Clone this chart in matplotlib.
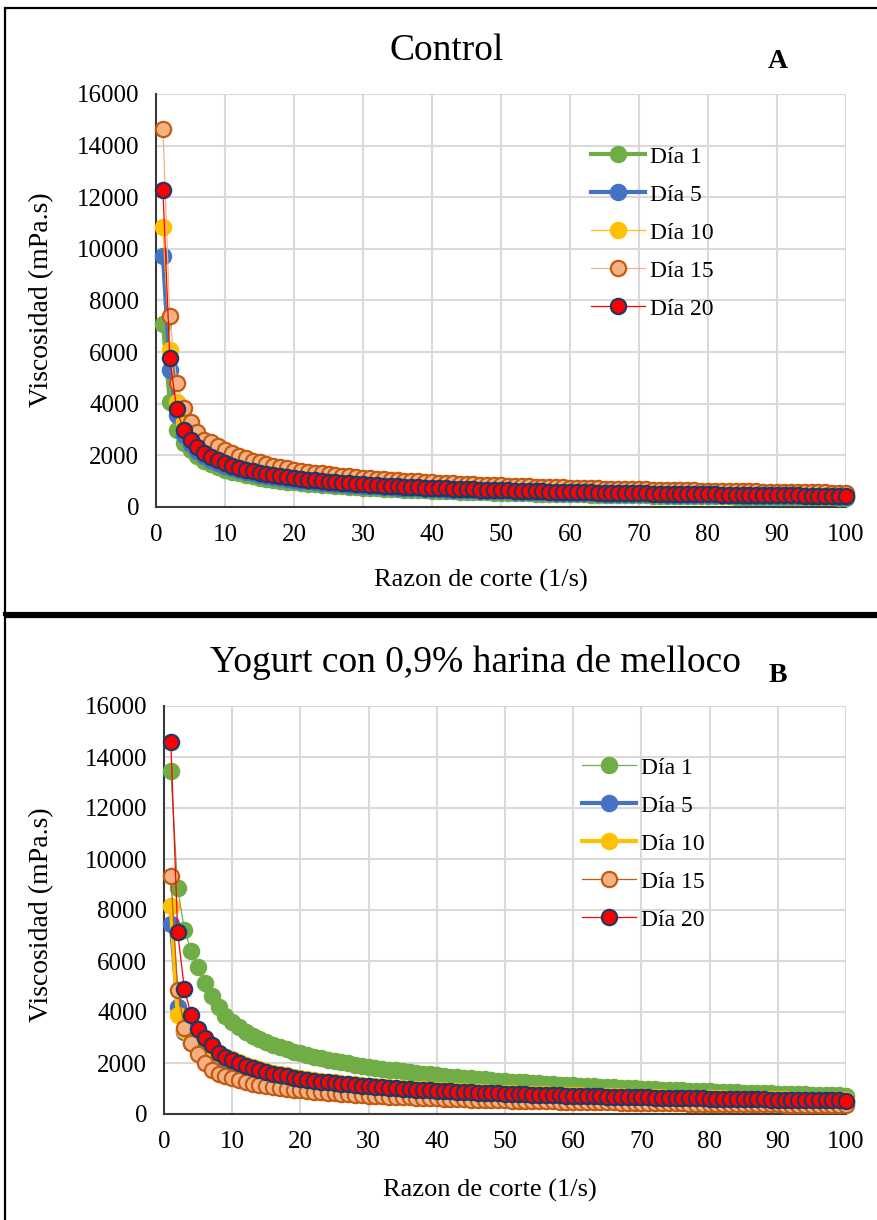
import matplotlib
matplotlib.use("Agg")
import matplotlib.pyplot as plt
from matplotlib.patches import Rectangle
from matplotlib.lines import Line2D

plt.rcParams['font.family'] = ['Liberation Serif', 'DejaVu Serif']

# shear rate (1/s), same for every series
shear_rate = list(range(1, 101))

labels = ['Día 1', 'Día 5', 'Día 10', 'Día 15', 'Día 20']

# ---- Panel A: Control (viscosity, mPa.s) ----
control_d1 = [7100, 4050, 2980, 2480, 2198, 1970, 1796, 1658, 1545, 1450,
              1369, 1300, 1239, 1185, 1137, 1094, 1055, 1019, 987, 957,
              929, 903, 880, 858, 837, 817, 799, 782, 765, 750,
              735, 722, 708, 696, 684, 672, 661, 651, 641, 631,
              622, 613, 604, 596, 588, 580, 573, 566, 559, 552,
              545, 539, 533, 527, 521, 516, 510, 505, 500, 495,
              490, 485, 481, 476, 472, 467, 463, 459, 455, 451,
              447, 444, 440, 436, 433, 429, 426, 423, 419, 416,
              413, 410, 407, 404, 402, 399, 396, 393, 391, 388,
              385, 383, 380, 378, 376, 373, 371, 369, 366, 364]
control_d5 = [9740, 5310, 3550, 2800, 2425, 2174, 1982, 1829, 1704, 1600,
              1511, 1434, 1367, 1308, 1255, 1207, 1164, 1124, 1089, 1056,
              1025, 997, 971, 946, 923, 902, 882, 863, 845, 828,
              812, 796, 782, 768, 755, 742, 730, 718, 707, 696,
              686, 676, 667, 658, 649, 640, 632, 624, 617, 609,
              602, 595, 588, 582, 575, 569, 563, 557, 552, 546,
              541, 535, 530, 525, 520, 516, 511, 507, 502, 498,
              494, 489, 485, 481, 478, 474, 470, 467, 463, 460,
              456, 453, 449, 446, 443, 440, 437, 434, 431, 428,
              425, 423, 420, 417, 415, 412, 409, 407, 404, 402]
control_d10 = [10830, 6100, 4080, 3310, 2728, 2446, 2229, 2058, 1918, 1800,
               1700, 1614, 1538, 1471, 1411, 1358, 1309, 1265, 1225, 1188,
               1153, 1122, 1092, 1065, 1039, 1015, 992, 970, 950, 931,
               913, 896, 879, 864, 849, 835, 821, 808, 795, 784,
               772, 761, 750, 740, 730, 721, 711, 702, 694, 685,
               677, 669, 662, 654, 647, 640, 634, 627, 620, 614,
               608, 602, 597, 591, 586, 580, 575, 570, 565, 560,
               555, 551, 546, 542, 537, 533, 529, 525, 521, 517,
               513, 509, 506, 502, 498, 495, 492, 488, 485, 482,
               478, 475, 472, 469, 466, 463, 460, 458, 455, 452]
control_d15 = [14640, 7400, 4820, 3840, 3310, 2920, 2600, 2515, 2344, 2200,
               2078, 1972, 1879, 1798, 1725, 1659, 1600, 1546, 1497, 1452,
               1410, 1371, 1335, 1301, 1270, 1240, 1212, 1186, 1161, 1138,
               1116, 1095, 1075, 1056, 1038, 1020, 1003, 988, 972, 958,
               944, 930, 917, 904, 892, 881, 869, 858, 848, 838,
               828, 818, 809, 800, 791, 783, 774, 766, 758, 751,
               743, 736, 729, 722, 716, 709, 703, 697, 690, 684,
               679, 673, 667, 662, 657, 651, 646, 642, 636, 632,
               627, 623, 618, 614, 609, 605, 601, 597, 593, 589,
               585, 581, 577, 574, 570, 566, 563, 559, 556, 553]
control_d20 = [12300, 5760, 3790, 2980, 2577, 2310, 2106, 1944, 1811, 1700,
               1605, 1524, 1452, 1389, 1333, 1282, 1236, 1195, 1157, 1122,
               1089, 1059, 1031, 1005, 981, 958, 937, 916, 897, 879,
               862, 846, 830, 816, 802, 788, 775, 763, 751, 740,
               729, 719, 709, 699, 690, 681, 672, 663, 655, 647,
               640, 632, 625, 618, 611, 605, 598, 592, 586, 580,
               574, 569, 563, 558, 553, 548, 543, 538, 533, 529,
               524, 520, 516, 512, 507, 503, 499, 496, 492, 488,
               485, 481, 478, 474, 471, 468, 464, 461, 458, 455,
               452, 449, 446, 443, 440, 438, 435, 432, 430, 427]

# ---- Panel B: Yogurt con 0,9% harina de melloco ----
melloco_d1 = [13450, 8850, 7210, 6390, 5780, 5150, 4630, 4210, 3835, 3600,
              3400, 3227, 3075, 2942, 2823, 2715, 2618, 2530, 2449, 2375,
              2307, 2243, 2184, 2129, 2078, 2029, 1984, 1941, 1900, 1862,
              1821, 1781, 1744, 1707, 1674, 1640, 1609, 1579, 1550, 1522,
              1495, 1470, 1444, 1421, 1397, 1375, 1353, 1333, 1312, 1293,
              1273, 1255, 1237, 1219, 1203, 1186, 1169, 1154, 1138, 1124,
              1108, 1095, 1081, 1067, 1054, 1041, 1028, 1016, 1004, 992,
              981, 969, 958, 947, 937, 926, 916, 906, 895, 886,
              877, 868, 858, 849, 840, 832, 823, 814, 806, 798,
              790, 783, 775, 767, 760, 752, 745, 737, 731, 723]
melloco_d5 = [7450, 4200, 3230, 2800, 2600, 2450, 2350, 2172, 2024, 1900,
              1794, 1703, 1623, 1553, 1490, 1433, 1382, 1335, 1293, 1254,
              1217, 1184, 1153, 1124, 1096, 1071, 1047, 1024, 1003, 983,
              964, 945, 928, 912, 896, 881, 867, 853, 840, 827,
              815, 803, 792, 781, 771, 761, 751, 741, 732, 723,
              715, 707, 699, 691, 683, 676, 669, 662, 655, 648,
              642, 636, 630, 624, 618, 612, 607, 602, 596, 591,
              586, 581, 576, 572, 567, 563, 558, 554, 550, 546,
              542, 538, 534, 530, 526, 523, 519, 515, 512, 508,
              505, 502, 499, 495, 492, 489, 486, 483, 480, 477]
melloco_d10 = [8150, 3900, 3300, 3000, 2800, 2600, 2450, 2350, 2250, 2150,
               2030, 1927, 1837, 1757, 1686, 1622, 1564, 1511, 1463, 1419,
               1378, 1340, 1304, 1272, 1241, 1212, 1185, 1159, 1135, 1112,
               1090, 1070, 1050, 1032, 1014, 997, 981, 965, 950, 936,
               922, 909, 896, 884, 872, 861, 849, 839, 829, 819,
               809, 800, 791, 782, 773, 765, 757, 749, 741, 734,
               726, 719, 713, 706, 699, 693, 687, 681, 675, 669,
               663, 658, 652, 647, 642, 637, 632, 627, 622, 617,
               613, 608, 604, 600, 595, 591, 587, 583, 579, 575,
               571, 568, 564, 561, 557, 553, 550, 547, 543, 540]
melloco_d15 = [9330, 4860, 3360, 2800, 2340, 1990, 1725, 1570, 1491, 1400,
               1322, 1255, 1196, 1144, 1098, 1056, 1018, 984, 953, 924,
               897, 872, 849, 828, 808, 789, 772, 755, 739, 724,
               710, 697, 684, 672, 660, 649, 639, 628, 619, 609,
               600, 592, 584, 576, 568, 560, 553, 546, 540, 533,
               527, 521, 515, 509, 503, 498, 493, 488, 483, 478,
               473, 468, 464, 460, 455, 451, 447, 443, 439, 436,
               432, 428, 425, 421, 418, 415, 411, 408, 405, 402,
               399, 396, 393, 390, 388, 385, 382, 380, 377, 375,
               372, 370, 367, 365, 363, 360, 358, 356, 354, 352]
melloco_d20 = [14580, 7120, 4890, 3880, 3320, 3000, 2700, 2401, 2237, 2100,
               1983, 1882, 1794, 1716, 1647, 1584, 1527, 1476, 1429, 1386,
               1345, 1309, 1274, 1242, 1212, 1184, 1157, 1132, 1109, 1086,
               1065, 1045, 1026, 1008, 990, 974, 958, 943, 928, 914,
               901, 888, 875, 863, 852, 841, 830, 819, 809, 799,
               790, 781, 772, 764, 755, 747, 739, 731, 724, 717,
               710, 703, 696, 689, 683, 677, 671, 665, 659, 653,
               648, 642, 637, 632, 627, 622, 617, 612, 608, 603,
               599, 594, 590, 586, 581, 578, 574, 570, 566, 562,
               558, 555, 551, 547, 544, 541, 537, 534, 531, 528]

GREEN = '#70AD47'
BLUE = '#4472C4'
YELLOW = '#FFC000'
PEACH = '#F4B183'
BURNT = '#C55A11'
RED = '#FF0000'
NAVY = '#203864'

# line width / color for each series, per panel (they differ between A and B)
styles_a = [
    dict(color=GREEN, lw=3.0, mfc=GREEN, mec=GREEN),
    dict(color=BLUE, lw=3.0, mfc=BLUE, mec=BLUE),
    dict(color=YELLOW, lw=0.9, mfc=YELLOW, mec=YELLOW),
    dict(color=PEACH, lw=0.9, mfc=PEACH, mec=BURNT),
    dict(color=RED, lw=0.9, mfc=RED, mec=NAVY),
]
styles_b = [
    dict(color=GREEN, lw=0.9, mfc=GREEN, mec=GREEN),
    dict(color=BLUE, lw=3.0, mfc=BLUE, mec=BLUE),
    dict(color=YELLOW, lw=3.0, mfc=YELLOW, mec=YELLOW),
    dict(color=BURNT, lw=0.9, mfc=PEACH, mec=BURNT),
    dict(color=RED, lw=0.9, mfc=RED, mec=NAVY),
]

MS = 11


def draw_panel(fig, rect, series, styles, title, title_xy, letter_xy, legend_xy, ylabel_y, xlabel_xy):
    ax = fig.add_axes(rect)
    for values, st in zip(series, styles):
        ax.plot(shear_rate, values, color=st['color'], lw=st['lw'], marker='o',
                markersize=MS, markerfacecolor=st['mfc'], markeredgecolor=st['mec'],
                markeredgewidth=1.6, clip_on=False, zorder=3)

    ax.set_xlim(0, 100)
    ax.set_ylim(0, 16000)
    ax.set_xticks(range(0, 101, 10))
    ax.set_yticks(range(0, 16001, 2000))
    ax.grid(True, color='#D9D9D9', lw=1.5)
    ax.set_axisbelow(True)
    for side in ['top', 'right']:
        ax.spines[side].set_visible(False)
    for side in ['left', 'bottom']:
        ax.spines[side].set_color('#3A3A3A')
        ax.spines[side].set_linewidth(1.5)
        ax.spines[side].set_zorder(2)
    ax.tick_params(axis='both', length=0, labelsize=18, colors='black')
    ax.tick_params(axis='y', pad=12)
    ax.tick_params(axis='x', pad=12)

    # legend handles built like the series lines
    handles = [Line2D([], [], color=st['color'], lw=st['lw'], marker='o', markersize=MS,
                      markerfacecolor=st['mfc'], markeredgecolor=st['mec'], markeredgewidth=1.6)
               for st in styles]
    fig.legend(handles, labels, loc='upper left', bbox_to_anchor=legend_xy,
               frameon=False, fontsize=17, handlelength=2.3, handletextpad=0.2,
               labelspacing=0.7, borderpad=0, borderaxespad=0)

    fig.text(title_xy[0], title_xy[1], title, ha='center', va='center', fontsize=27)
    fig.text(letter_xy[0], letter_xy[1], letter_xy[2], ha='center', va='center',
             fontsize=20, fontweight='bold')
    fig.text(0.047, ylabel_y, 'Viscosidad (mPa.s)', rotation=90, ha='center', va='center', fontsize=20)
    fig.text(xlabel_xy[0], xlabel_xy[1], 'Razon de corte (1/s)', ha='center', va='center', fontsize=19)
    return ax


fig = plt.figure(figsize=(8.77, 12.2), dpi=100)
W, H = 877.0, 1220.0

# panel frames like the pasted Excel charts
fig.add_artist(Rectangle((5 / W, 1 - 614 / H), 1.0, (614 - 8) / H, transform=fig.transFigure,
                         fill=False, edgecolor='black', lw=1.6))
fig.add_artist(Rectangle((5 / W, -0.01), 1.0, 1 - 617 / H + 0.01, transform=fig.transFigure,
                         fill=False, edgecolor='black', lw=1.6))
fig.add_artist(Line2D([5 / W, 1], [1 - 614 / H, 1 - 614 / H], transform=fig.transFigure,
                      color='black', lw=3))

series_a = [control_d1, control_d5, control_d10, control_d15, control_d20]
series_b = [melloco_d1, melloco_d5, melloco_d10, melloco_d15, melloco_d20]

draw_panel(fig, [156 / W, 1 - 507 / H, 690 / W, 413 / H], series_a, styles_a,
           'Control', (447 / W, 1 - 51 / H), (778 / W, 1 - 61 / H, 'A'),
           (591 / W, 1 - 146 / H), 1 - 300 / H, (481 / W, 1 - 580 / H))
draw_panel(fig, [164 / W, 1 - 1114 / H, 682 / W, 408 / H], series_b, styles_b,
           'Yogurt con 0,9% harina de melloco', (475 / W, 1 - 662 / H), (778 / W, 1 - 675 / H, 'B'),
           (582 / W, 1 - 757 / H), 1 - 915 / H, (490 / W, 1 - 1190 / H))

fig.savefig('out.png', dpi=100)
